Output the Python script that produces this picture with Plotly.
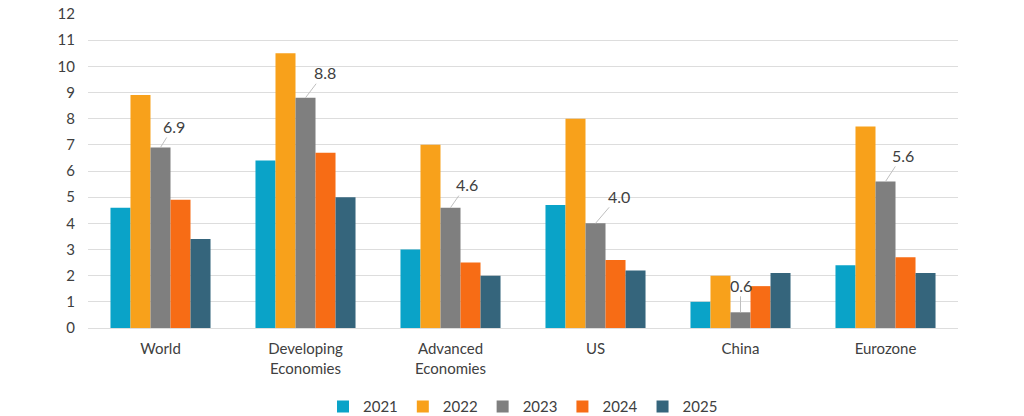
import plotly.graph_objects as go

categories = ["World", "Developing<br>Economies", "Advanced<br>Economies", "US", "China", "Eurozone"]
years = ["2021", "2022", "2023", "2024", "2025"]
v2021 = [4.6, 6.4, 3.0, 4.7, 1.0, 2.4]
v2022 = [8.9, 10.5, 7.0, 8.0, 2.0, 7.7]
v2023 = [6.9, 8.8, 4.6, 4.0, 0.6, 5.6]
v2024 = [4.9, 6.7, 2.5, 2.6, 1.6, 2.7]
v2025 = [3.4, 5.0, 2.0, 2.2, 2.1, 2.1]
series = [v2021, v2022, v2023, v2024, v2025]
colors = ["#0AA3C8", "#F8A11B", "#7F7F7F", "#F76C15", "#35657C"]

# label offsets (pixels) for the 2023 labels
label_ax = [13, 19, 16, 23, 0, 17]
label_ay = [-21, -25, -23, -27, -27, -26]

fig = go.Figure()
for name, vals, col in zip(years, series, colors):
    fig.add_trace(go.Bar(name=name, x=categories, y=vals, marker_color=col,
                         marker_line_width=0))

for i, (c, v) in enumerate(zip(categories, v2023)):
    fig.add_annotation(x=c, y=v, xref="x", yref="y", text=f"{v:.1f}",
                       showarrow=True, arrowhead=0, arrowwidth=1,
                       arrowcolor="#BFBFBF", ax=label_ax[i], ay=label_ay[i],
                       font=dict(size=16, color="#404040"))

font_family = "Lato, Open Sans, sans-serif"
fig.update_layout(
    width=1024, height=416,
    margin=dict(l=88, r=66, t=14, b=88, autoexpand=False),
    paper_bgcolor="white", plot_bgcolor="white",
    barmode="group", bargap=0.31, bargroupgap=0,
    font=dict(family=font_family, size=15, color="#404040"),
    showlegend=True,
    legend=dict(orientation="h", x=0.5, xanchor="center", yref="container",
                y=0.022, yanchor="middle",
                font=dict(size=15, color="#404040"), itemwidth=30,
                traceorder="normal"),
    xaxis=dict(showgrid=False, showline=False, ticks="", ticklabelstandoff=10,
               tickfont=dict(size=15, color="#404040")),
    yaxis=dict(range=[0, 12], dtick=1, showgrid=True, gridcolor="#DDDDDD", gridwidth=1,
               zeroline=True, zerolinecolor="#DDDDDD", zerolinewidth=1,
               ticks="", ticklabelstandoff=12, tickfont=dict(size=15, color="#404040")),
)

fig.write_html("out.html",
               config={"displayModeBar": False},
               post_script="document.body.style.margin='0';document.body.style.overflow='hidden';")
